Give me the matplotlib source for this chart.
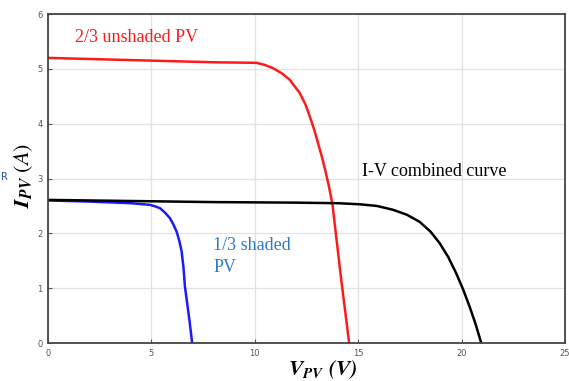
import matplotlib.pyplot as plt

plt.rcParams['mathtext.fontset'] = 'stix'

# curves (V in volts, I in amps)
v_unshaded = [0, 2, 4, 6, 8, 10.08, 10.5, 10.89, 11.3, 11.69, 12.17, 12.45, 12.66, 12.88,
              13.06, 13.24, 13.4, 13.57, 13.75, 13.96, 14.18, 14.38, 14.56]
i_unshaded = [5.2, 5.18, 5.16, 5.14, 5.12, 5.11, 5.07, 5.01, 4.92, 4.80, 4.56, 4.35, 4.13, 3.88,
              3.64, 3.40, 3.16, 2.88, 2.54, 1.86, 1.15, 0.55, 0.0]

v_shaded = [0, 2, 4, 4.93, 5.2, 5.41, 5.65, 5.89, 6.05, 6.22, 6.35, 6.46, 6.55, 6.62, 6.72, 6.85, 6.97]
i_shaded = [2.6, 2.58, 2.55, 2.52, 2.49, 2.46, 2.38, 2.28, 2.17, 2.03, 1.86, 1.67, 1.38, 1.03, 0.75, 0.38, 0.0]

v_combined = [0, 4, 8, 12, 14, 15.07, 15.9, 16.68, 17.35, 17.97, 18.5, 18.94, 19.35, 19.74,
              20.08, 20.39, 20.68, 20.95]
i_combined = [2.61, 2.59, 2.57, 2.56, 2.55, 2.53, 2.5, 2.43, 2.34, 2.21, 2.03, 1.82, 1.57, 1.27,
              0.97, 0.66, 0.34, 0.0]

xticks = [0, 5, 10, 15, 20, 25]
yticks = [0, 1, 2, 3, 4, 5, 6]

fig = plt.figure(figsize=(5.69, 3.81), dpi=100)
ax = fig.add_axes([0.0844, 0.0997, 0.9086, 0.8635])

ax.plot(v_unshaded, i_unshaded, color='#ff1a1a', lw=1.8)
ax.plot(v_shaded, i_shaded, color='#1a1aff', lw=1.8)
ax.plot(v_combined, i_combined, color='black', lw=1.8)

ax.set_xlim(0, 25)
ax.set_ylim(0, 6)
ax.set_xticks(xticks)
ax.set_yticks(yticks)
ax.grid(True, color='#e2e2e2', lw=0.9)
ax.tick_params(direction='in', length=3, labelsize=6, colors='#555555', pad=4)
for s in ax.spines.values():
    s.set_color('#444444')
    s.set_linewidth(1.3)

serif = 'Liberation Serif'
ax.text(1.3, 5.58, '2/3 unshaded PV', color='#ff1a1a', fontsize=13,
        family=serif, va='center')
ax.text(15.2, 3.12, 'I-V combined curve', color='black', fontsize=13,
        family=serif, va='center')
ax.text(8.0, 1.58, '1/3 shaded\nPV', color='#2e7bc4', fontsize=13,
        family=serif, va='center', linespacing=1.4)

# clipped stray letter at the left edge of the original
fig.text(0.002, 1 - 177 / 381, 'R', color='#1f4e9c', fontsize=7, va='center', ha='left')

ax.set_xlabel(r'$\mathbfit{V}_{\mathbfit{PV}}\ \mathbfit{(V)}$', fontsize=15.5)
ax.xaxis.set_label_coords(0.532, -0.045)
ax.set_ylabel(r'$\mathbfit{I}_{\mathbfit{PV}}\ (\mathit{A})$', fontsize=16)
ax.yaxis.set_label_coords(-0.026, 0.51)

plt.savefig('out.png', dpi=100)
